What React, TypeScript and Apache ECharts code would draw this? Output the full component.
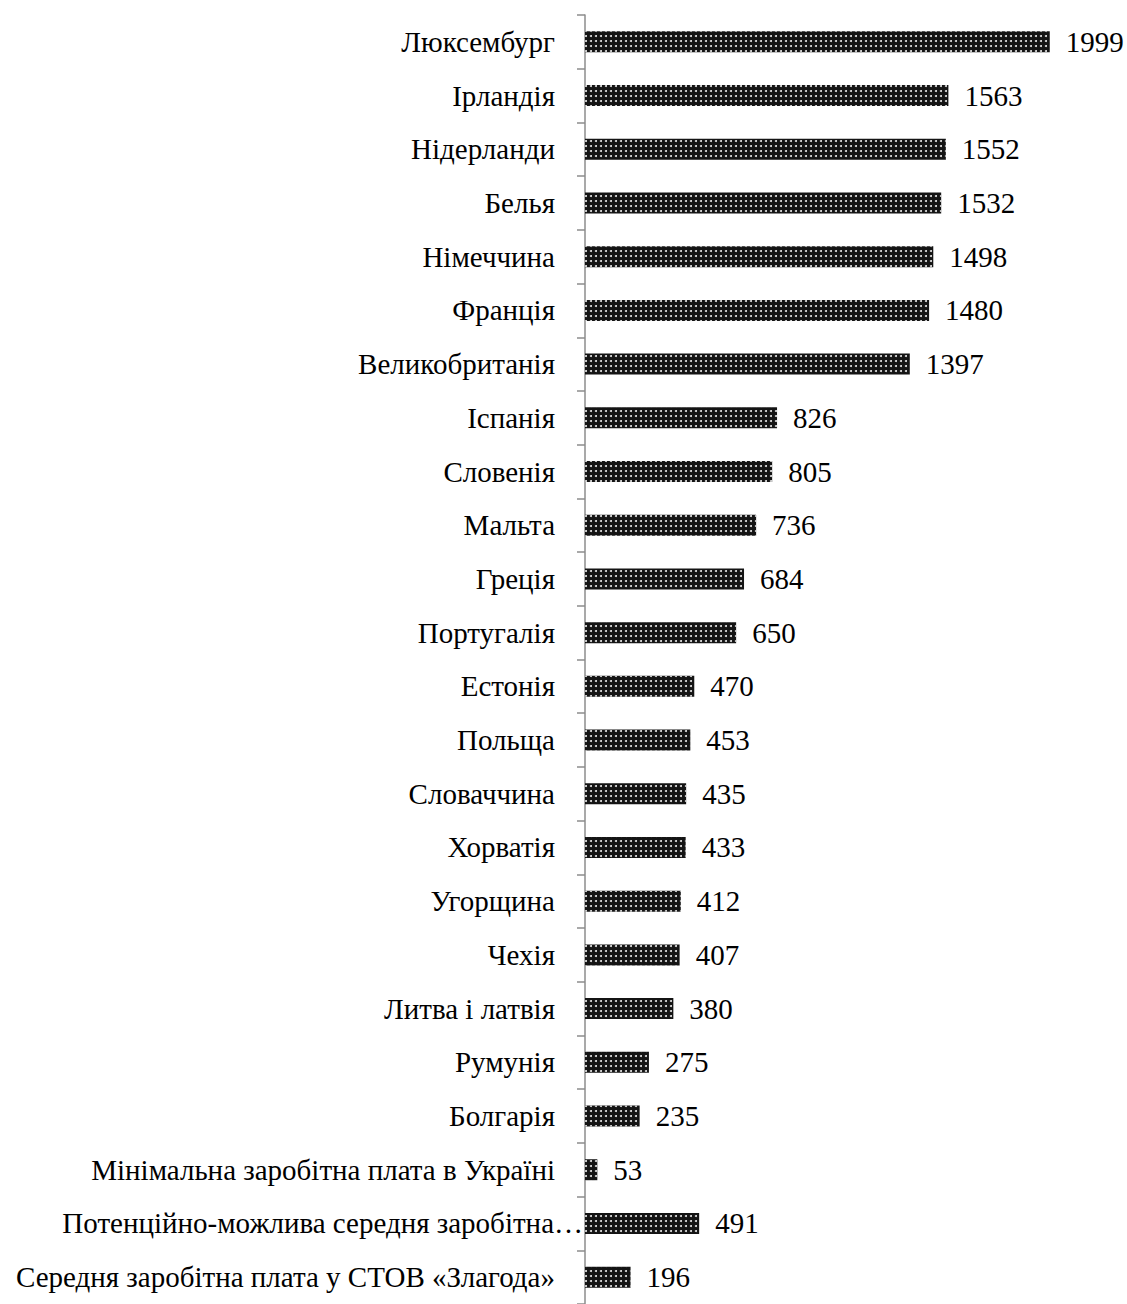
import React, { useEffect, useRef } from "react";
import * as echarts from "echarts";

const categories: string[] = [
  "Люксембург",
  "Ірландія",
  "Нідерланди",
  "Белья",
  "Німеччина",
  "Франція",
  "Великобританія",
  "Іспанія",
  "Словенія",
  "Мальта",
  "Греція",
  "Португалія",
  "Естонія",
  "Польща",
  "Словаччина",
  "Хорватія",
  "Угорщина",
  "Чехія",
  "Литва і латвія",
  "Румунія",
  "Болгарія",
  "Мінімальна заробітна плата в Україні",
  "Потенційно-можлива середня заробітна плата у СТОВ «Злагода»",
  "Середня заробітна плата у СТОВ «Злагода»",
];

const values: number[] = [
  1999, 1563, 1552, 1532, 1498, 1480, 1397, 826, 805, 736, 684, 650, 470, 453,
  435, 433, 412, 407, 380, 275, 235, 53, 491, 196,
];

const FONT = "Liberation Serif";
const FONT_SIZE = 29;
const LABEL_LIMIT = 570;
const LABEL_TRUNC = 526;

function measure(text: string): number {
  const cv = document.createElement("canvas");
  const ctx = cv.getContext("2d");
  if (!ctx) return 0;
  ctx.font = `${FONT_SIZE}px ${FONT}`;
  return ctx.measureText(text).width;
}

function truncate(text: string): string {
  if (measure(text) <= LABEL_LIMIT) return text;
  let t = text;
  while (t.length > 1 && measure(t + "…") > LABEL_TRUNC) {
    t = t.slice(0, -1);
  }
  return t.replace(/\s+$/, "") + "…";
}

export default function App() {
  const ref = useRef<HTMLDivElement>(null);
  useEffect(() => {
    if (!ref.current) return;
    const chart = echarts.init(ref.current, undefined, { renderer: "svg" });
    const axisData = categories.map((c) => {
      if (truncate(c) !== c) {
        return { value: c, textStyle: { padding: [0, -28, 0, 0] } };
      }
      return { value: c };
    });
    chart.setOption({
      animation: false,
      backgroundColor: "#ffffff",
      textStyle: { fontFamily: FONT },
      grid: { left: 585, right: 77, top: 15, bottom: -4, containLabel: false },
      xAxis: {
        type: "value",
        min: 0,
        max: 2000,
        show: false,
        splitLine: { show: false },
      },
      yAxis: {
        type: "category",
        inverse: true,
        data: axisData,
        axisLine: { show: true, lineStyle: { color: "#8c8c8c", width: 1.5 } },
        axisTick: { show: true, length: 8, lineStyle: { color: "#8c8c8c", width: 1.5 } },
        axisLabel: {
          margin: 30,
          color: "#000",
          fontFamily: FONT,
          fontSize: FONT_SIZE,
          formatter: (v: string) => truncate(v),
        },
      },
      series: [
        {
          type: "bar",
          data: values,
          barWidth: 21,
          itemStyle: {
            color: "#141414",
            decal: {
              symbol: "circle",
              symbolSize: 1,
              color: "#e6e6e6",
              dashArrayX: [2, 3],
              dashArrayY: [2, 3],
              rotation: 0,
            },
          },
          label: {
            show: true,
            position: "right",
            distance: 16,
            color: "#000",
            fontFamily: FONT,
            fontSize: FONT_SIZE,
          },
        },
      ],
    });
    return () => chart.dispose();
  }, []);
  return (
    <div
      ref={ref}
      style={{ position: "absolute", left: 0, top: 0, width: 1127, height: 1304 }}
    />
  );
}
